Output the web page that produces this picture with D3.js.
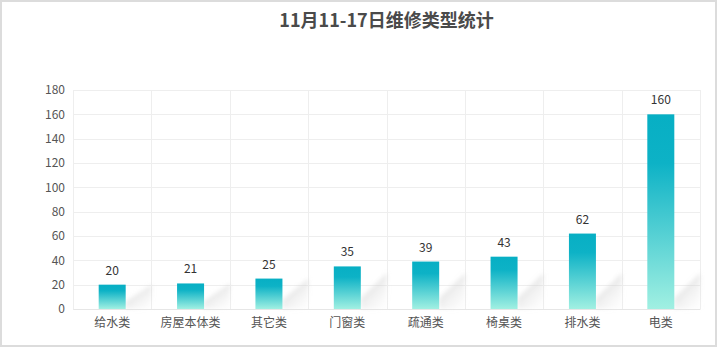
<!DOCTYPE html>
<html>
<head>
<meta charset="utf-8">
<script src="https://cdn.jsdelivr.net/npm/d3@7"></script>
<style>
  body { margin: 0; background: #fff; }
  svg { display: block; font-family: "Noto Sans CJK SC", "Noto Sans", sans-serif; }
</style>
</head>
<body>
<script>
// data
var categories = ['给水类', '房屋本体类', '其它类', '门窗类', '疏通类', '椅桌类', '排水类', '电类'];
var values = [20, 21, 25, 35, 39, 43, 62, 160];
var yTicks = [0, 20, 40, 60, 80, 100, 120, 140, 160, 180];
var title = '11月11-17日维修类型统计';

var W = 718, H = 348;
var margin = { top: 90, right: 18, bottom: 39, left: 73 };
var width = W - margin.left - margin.right,
	height = H - margin.top - margin.bottom;

var svg = d3.select('body').append('svg')
	.attr('width', W)
	.attr('height', H);

// outer border
svg.append('rect')
	.attr('x', 1).attr('y', 1)
	.attr('width', W - 3).attr('height', H - 3)
	.attr('fill', 'none')
	.attr('stroke', '#dcdcdc')
	.attr('stroke-width', 2);

var defs = svg.append('defs');
var grad = defs.append('linearGradient')
	.attr('id', 'barGrad')
	.attr('x1', 0).attr('y1', 0).attr('x2', 0).attr('y2', 1);
grad.append('stop').attr('offset', '0%').attr('stop-color', '#07afc4');
grad.append('stop').attr('offset', '25%').attr('stop-color', '#0db2c6');
grad.append('stop').attr('offset', '100%').attr('stop-color', '#a1f0e2');

// shadow: dark along the upper diagonal edge, fading downwards/right
var sgrad = defs.append('linearGradient')
	.attr('id', 'shadowGrad')
	.attr('x1', 0.2).attr('y1', 0.2).attr('x2', 0.8).attr('y2', 1);
sgrad.append('stop').attr('offset', '0%').attr('stop-color', '#bdbdbd').attr('stop-opacity', 0.55);
sgrad.append('stop').attr('offset', '100%').attr('stop-color', '#e6e6e6').attr('stop-opacity', 0.1);

defs.append('filter').attr('id', 'blur')
	.attr('x', '-50%').attr('y', '-50%').attr('width', '200%').attr('height', '200%')
	.append('feGaussianBlur').attr('stdDeviation', 2);

// title
svg.append('text')
	.attr('x', margin.left + width / 2)
	.attr('y', 27)
	.attr('text-anchor', 'middle')
	.style('font-size', '18px')
	.style('font-weight', 'bold')
	.style('fill', '#4a4a4a')
	.text(title);

var g = svg.append('g')
	.attr('transform', 'translate(' + margin.left + ',' + margin.top + ')');

var x = d3.scaleBand().domain(categories).range([0, width]).paddingInner(0).paddingOuter(0);
var y = d3.scaleLinear().domain([0, 180]).range([height, 0]);

// horizontal grid
g.append('g').selectAll('line')
	.data(yTicks)
	.enter().append('line')
	.attr('x1', 0).attr('x2', width)
	.attr('y1', d => Math.round(y(d)) + 0.5)
	.attr('y2', d => Math.round(y(d)) + 0.5)
	.attr('stroke', '#eeeeee');

// vertical grid
var bounds = categories.map(c => x(c)).concat([width]);
g.append('g').selectAll('line')
	.data(bounds)
	.enter().append('line')
	.attr('x1', d => Math.round(d) + 0.5).attr('x2', d => Math.round(d) + 0.5)
	.attr('y1', 0).attr('y2', height)
	.attr('stroke', '#eeeeee');

// y axis
var yAxis = g.append('g')
	.call(d3.axisLeft(y).tickValues(yTicks).tickSize(0).tickPadding(8));
yAxis.select('.domain').remove();
yAxis.selectAll('text')
	.style('font-size', '12px')
	.style('fill', '#555')
	.style('font-family', '"Noto Sans CJK SC", sans-serif');

// x axis
var xAxis = g.append('g')
	.attr('transform', 'translate(0,' + height + ')')
	.call(d3.axisBottom(x).tickSize(0).tickPadding(9));
xAxis.select('.domain').attr('stroke', '#e6e6e6');
xAxis.selectAll('text')
	.style('font-size', '12px')
	.style('fill', '#555')
	.style('font-family', '"Noto Sans CJK SC", sans-serif');

var barW = 27;
var data = categories.map((c, i) => ({ cat: c, val: values[i] }));

var bar = g.selectAll('.bar')
	.data(data)
	.enter().append('g')
	.attr('class', 'bar')
	.attr('transform', d => 'translate(' + (x(d.cat) + x.bandwidth() / 2 - barW / 2) + ',0)');

// shadow
bar.append('polygon')
	.attr('points', d => {
		var h = Math.min(height - y(d.val), 36);
		return [[barW, height], [barW, height - h * 0.3], [barW + 26, height - h], [barW + 26, height]]
			.map(p => p.join(',')).join(' ');
	})
	.attr('fill', 'url(#shadowGrad)')
	.attr('filter', 'url(#blur)');

bar.append('rect')
	.attr('x', 0)
	.attr('y', d => y(d.val))
	.attr('width', barW)
	.attr('height', d => height - y(d.val))
	.attr('fill', 'url(#barGrad)');

bar.append('text')
	.attr('x', barW / 2)
	.attr('y', d => y(d.val) - 10)
	.attr('text-anchor', 'middle')
	.style('font-size', '12px')
	.style('fill', '#333')
	.text(d => d.val);
</script>
</body>
</html>
